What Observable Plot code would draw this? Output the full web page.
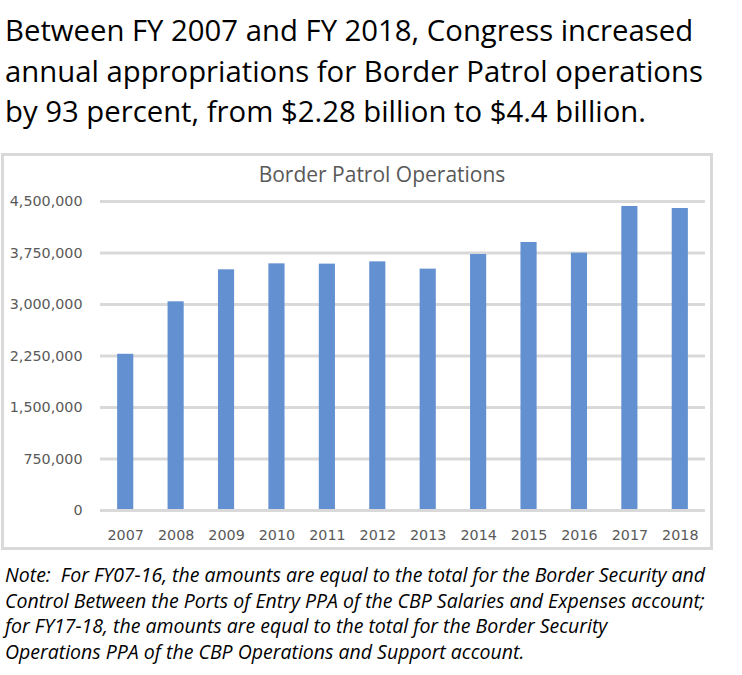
<!DOCTYPE html>
<html>
<head>
<meta charset="utf-8">
<script src="https://cdn.jsdelivr.net/npm/d3@7"></script>
<script src="https://cdn.jsdelivr.net/npm/@observablehq/plot@0.6"></script>
<style>
  html, body { margin: 0; padding: 0; background: #fff; }
  #page { position: relative; width: 742px; height: 675px; overflow: hidden; }
  #title { position: absolute; left: 5px; top: 10px; font-family: "Open Sans", sans-serif; font-size: 29.3px; line-height: 40.7px; color: #000; white-space: nowrap; }
  #box { position: absolute; left: 1px; top: 153px; width: 712px; height: 397px; box-sizing: border-box; border: 3px solid #d9d9d9; }
  #ctitle { position: absolute; left: 0; top: 162px; width: 764px; text-align: center; font-family: "Open Sans", sans-serif; font-size: 21px; line-height: 24px; color: #595959; }
  #chart { position: absolute; left: 0; top: 185px; }
  #note { position: absolute; left: 5px; top: 562px; font-family: "Open Sans", sans-serif; font-style: italic; font-size: 19.5px; line-height: 25.6px; color: #000; white-space: nowrap; }
</style>
</head>
<body>
<div id="page">
  <div id="title"></div>
  <div id="box"></div>
  <div id="ctitle"></div>
  <div id="chart"></div>
  <div id="note"></div>
</div>
<script>
const titleLines = [
  "Between FY 2007 and FY 2018, Congress increased",
  "annual appropriations for Border Patrol operations",
  "by 93 percent, from $2.28 billion to $4.4 billion."
];
const chartTitle = "Border Patrol Operations";
const noteLines = [
  "Note:\u00a0 For FY07-16, the amounts are equal to the total for the Border Security and",
  "Control Between the Ports of Entry PPA of the CBP Salaries and Expenses account;",
  "for FY17-18, the amounts are equal to the total for the Border Security",
  "Operations PPA of the CBP Operations and Support account."
];
const years = ["2007","2008","2009","2010","2011","2012","2013","2014","2015","2016","2017","2018"];
const values = [2275000, 3039000, 3505000, 3592000, 3588000, 3621000, 3515000, 3728000, 3903000, 3748000, 4427000, 4398000];
const yTicks = [0, 750000, 1500000, 2250000, 3000000, 3750000, 4500000];

document.getElementById("title").innerHTML = titleLines.join("<br>");
document.getElementById("ctitle").textContent = chartTitle;
document.getElementById("note").innerHTML = noteLines.join("<br>");

const data = years.map((y, i) => ({year: y, value: values[i]}));

const chart = Plot.plot({
  width: 720,
  height: 360,
  marginTop: 16,
  marginBottom: 35,
  marginLeft: 100,
  marginRight: 15,
  style: {fontFamily: "DejaVu Sans, sans-serif", fontSize: "14.3px", color: "#595959", background: "transparent"},
  x: {type: "band", domain: years, paddingInner: 0.68, paddingOuter: 0.34, round: false, label: null},
  y: {domain: [0, 4500000], label: null},
  marks: [
    Plot.ruleY(yTicks.filter(d => d > 0), {stroke: "#d9d9d9", strokeWidth: 3}),
    Plot.barY(data, {x: "year", y: "value", fill: "#6290d1"}),
    Plot.ruleY([0], {stroke: "#d9d9d9", strokeWidth: 3}),
    Plot.axisY({ticks: yTicks, tickSize: 0, tickPadding: 18, tickFormat: d3.format(","), label: null, fill: "#595959"}),
    Plot.axisX({tickSize: 0, tickPadding: 19, label: null, fill: "#595959"})
  ]
});
document.getElementById("chart").appendChild(chart);
</script>
</body>
</html>
